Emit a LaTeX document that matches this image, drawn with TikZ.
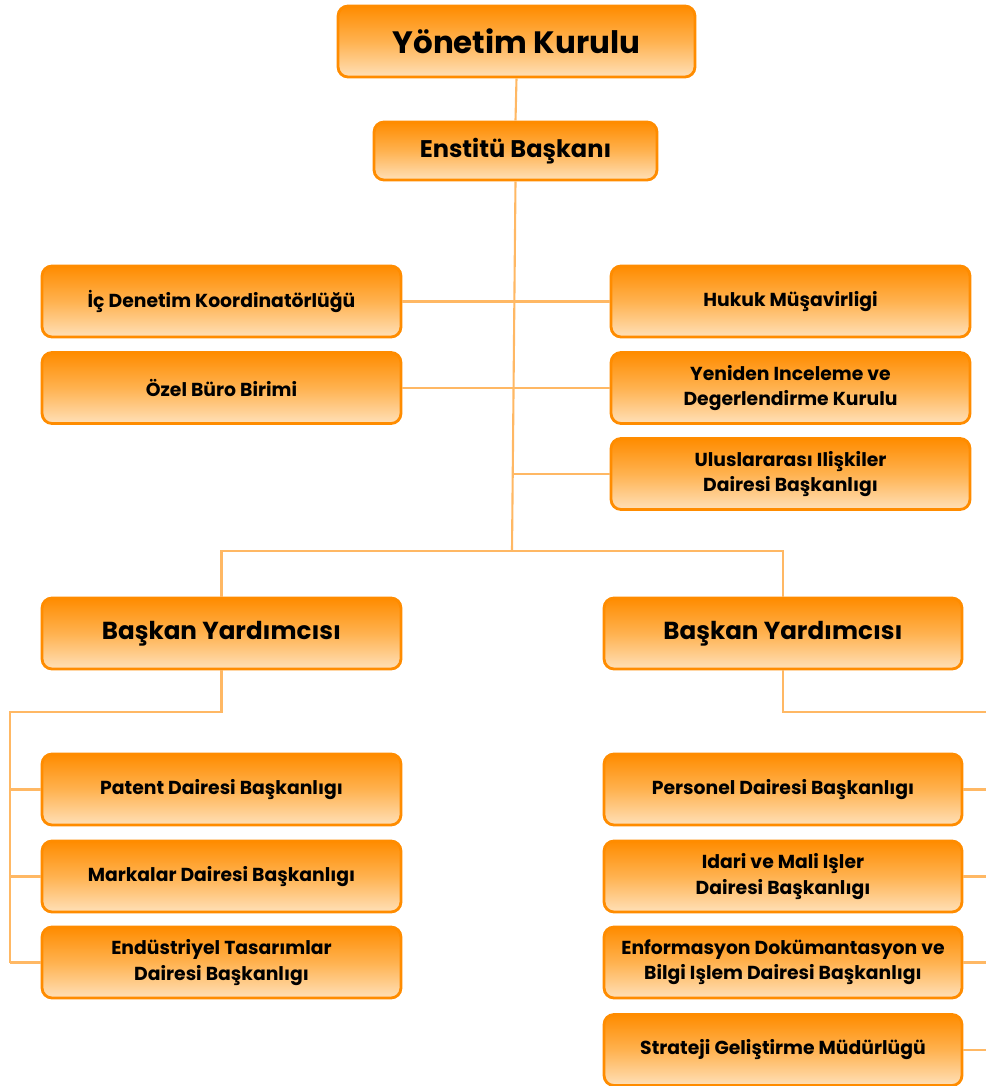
\documentclass[tikz,border=0pt]{standalone}
\usepackage{fontspec}
\setmainfont{Poppins}
\usepackage{xcolor}
\usepackage{tikz}
\usetikzlibrary{calc}
\definecolor{orgOrange}{RGB}{255, 140, 0}
\definecolor{orgMid}{RGB}{255, 178, 80}
\definecolor{orgPeach}{RGB}{255, 224, 184}
\definecolor{orgLine}{RGB}{255, 184, 100}
\tikzset{
    unitbox/.style={
        rectangle,
        rounded corners=2mm,
        draw=orgOrange,
        line width=1.6pt,
        top color=orgOrange,
        bottom color=orgPeach,
        middle color=orgMid,
        text=black,
        align=center,
        inner sep=1mm,
        font=\bfseries\fontsize{10.7}{14.4}\selectfont,
        minimum width=7.18cm,
        minimum height=1.42cm
    },
    headbox/.style={
        unitbox,
        font=\bfseries\fontsize{17.6}{22}\selectfont,
        minimum width=7.14cm
    },
    chiefbox/.style={
        unitbox,
        font=\bfseries\fontsize{13.7}{16}\selectfont,
        minimum width=5.66cm,
        minimum height=1.16cm
    },
    vicebox/.style={
        unitbox,
        font=\bfseries\fontsize{14}{17}\selectfont
    },
    link/.style={
        draw=orgLine,
        line width=1.2pt
    }
}

\begin{document}
\begin{tikzpicture}[x=0.02cm, y=-0.02cm]
    \useasboundingbox (0,0) rectangle (986,1086);

    % Top
    \node[headbox] (kurul) at (516.5,41.5) {Yönetim Kurulu};
    \node[chiefbox] (baskan) at (515.5,151) {Enstitü Başkanı};

    % Staff units
    \node[unitbox] (denetim) at (221.5,301.5) {İç Denetim Koordinatörlüğü};
    \node[unitbox] (buro) at (221.5,388) {Özel Büro Birimi};
    \node[unitbox] (hukuk) at (790.5,301.5) {Hukuk Müşavirligi};
    \node[unitbox] (inceleme) at (790.5,388) {Yeniden Inceleme ve\\Degerlendirme Kurulu};
    \node[unitbox] (iliski) at (790.5,474) {Uluslararası Ilişkiler\\Dairesi Başkanlıgı};

    % Vice presidents
    \node[vicebox] (yardL) at (221.5,633.5) {Başkan Yardımcısı};
    \node[vicebox, minimum width=7.16cm] (yardR) at (783,633.5) {Başkan Yardımcısı};

    % Departments
    \node[unitbox] (patent) at (221.5,789.5) {Patent Dairesi Başkanlıgı};
    \node[unitbox] (marka) at (221.5,876.5) {Markalar Dairesi Başkanlıgı};
    \node[unitbox] (tasarim) at (221.5,962.5) {Endüstriyel Tasarımlar\\Dairesi Başkanlıgı};
    \node[unitbox, minimum width=7.16cm] (personel) at (783,789.5) {Personel Dairesi Başkanlıgı};
    \node[unitbox, minimum width=7.16cm] (idari) at (783,876.5) {Idari ve Mali Işler\\Dairesi Başkanlıgı};
    \node[unitbox, minimum width=7.16cm] (bilgi) at (783,962.5) {Enformasyon Dokümantasyon ve\\Bilgi Işlem Dairesi Başkanlıgı};
    \node[unitbox, minimum width=7.16cm] (strateji) at (783,1050) {Strateji Geliştirme Müdürlügü};

    % Bus points
    \coordinate (hub) at (512,551);
    \coordinate (busL) at (10,712);
    \coordinate (busR) at (986,712);

    % Lines
    \draw[link] (kurul.south) -- (baskan.north);
    \draw[link] (baskan.south) -- (hub);
    \draw[link] (denetim.east) -- (hukuk.west);
    \draw[link] (buro.east) -- (inceleme.west);
    \draw[link] (iliski.west) -- (iliski.west -| hub);
    \draw[link] (yardL.north) |- (hub) -| (yardR.north);
    \draw[link] (yardL.south) |- (busL) -- (busL |- tasarim.west);
    \draw[link] (yardR.south) |- (busR);
    \foreach \n in {patent, marka, tasarim}
        \draw[link] (\n.west) -- (\n.west -| busL);
    \foreach \n in {personel, idari, bilgi, strateji}
        \draw[link] (\n.east) -- (\n.east -| busR);
\end{tikzpicture}
\end{document}
